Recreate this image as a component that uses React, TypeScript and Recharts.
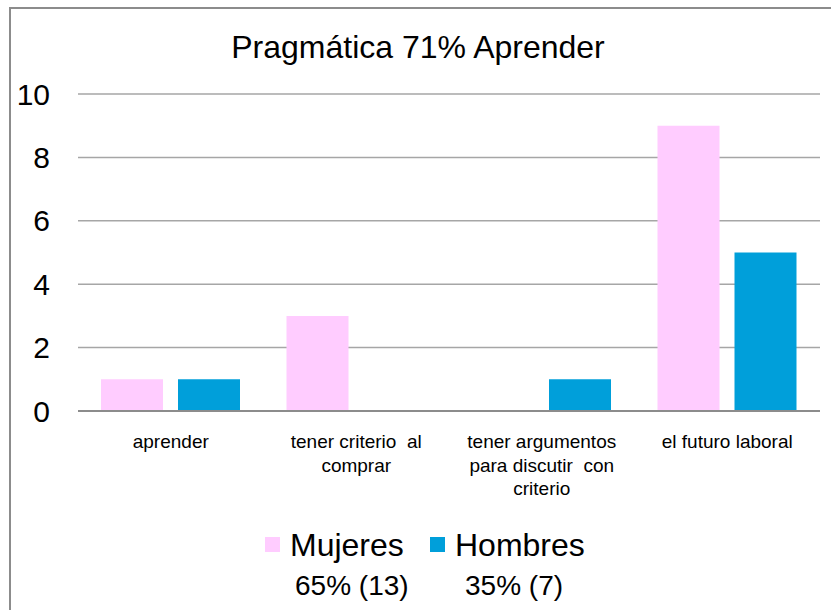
import React from "react";
import { BarChart, Bar, XAxis, YAxis, CartesianGrid } from "recharts";

const categories = ["aprender", "tener criterio  al comprar", "tener argumentos para discutir  con criterio", "el futuro laboral"];
const tickLines = [["aprender"], ["tener criterio  al", "comprar"], ["tener argumentos", "para discutir  con", "criterio"], ["el futuro laboral"]];
const mujeres = [1, 3, 0, 9];
const hombres = [1, 0, 1, 5];
const yTicks = [0, 2, 4, 6, 8, 10];

const seriesNames = ["Mujeres", "Hombres"];
const seriesShares = ["65% (13)", "35% (7)"];
const COLORS = ["#FFCCFF", "#009FDA"];

const FONT = '"Liberation Sans", Arial, sans-serif';

const data = categories.map((c, i) => ({ name: c, Mujeres: mujeres[i], Hombres: hombres[i] }));

function CategoryTick(props: any) {
  const { x, y, index } = props;
  const lines = tickLines[index] || [];
  return (
    <text x={x} y={y} textAnchor="middle" fontSize={19} fontFamily={FONT} fill="#000">
      {lines.map((l, i) => (
        <tspan key={i} x={x} y={y + 37 + i * 23.5} style={{ whiteSpace: "pre" }}>
          {l}
        </tspan>
      ))}
    </text>
  );
}

export default function App() {
  return (
    <div style={{ position: "absolute", left: 0, top: 0, width: 831, height: 610, overflow: "hidden", background: "#fff" }}>
      <div style={{ position: "absolute", left: 9, top: 7, width: 900, height: 700, border: "2px solid #8c8c8c" }} />
      <div style={{ position: "absolute", left: 0, top: 0 }}>
        <BarChart
          width={831}
          height={610}
          data={data}
          margin={{ top: 94, right: 11, left: 0, bottom: 99 }}
          barCategoryGap={23}
          barGap={15}
        >
          <CartesianGrid vertical={false} stroke="#a6a6a6" strokeWidth={1.5} />
          <XAxis
            dataKey="name"
            height={100}
            tickLine={false}
            tickSize={0}
            tickMargin={0}
            axisLine={{ stroke: "#8c8c8c", strokeWidth: 2 }}
            tick={<CategoryTick />}
            interval={0}
          />
          <YAxis
            width={78}
            domain={[0, 10]}
            ticks={yTicks}
            axisLine={false}
            tickLine={false}
            tickSize={0}
            tickMargin={28}
            tick={{ fontSize: 30, fontFamily: FONT, fill: "#000" }}
          />
          <Bar dataKey="Mujeres" fill={COLORS[0]} isAnimationActive={false} />
          <Bar dataKey="Hombres" fill={COLORS[1]} isAnimationActive={false} />
        </BarChart>
      </div>
      <svg width={831} height={610} style={{ position: "absolute", left: 0, top: 0, pointerEvents: "none" }}>
        <text x={418} y={58} textAnchor="middle" fontSize={32} fontFamily={FONT} fill="#000">
          Pragmática 71% Aprender
        </text>
        {seriesNames.map((n, i) => (
          <g key={n}>
            <rect x={265 + i * 165} y={537} width={15} height={15} fill={COLORS[i]} />
            <text x={290 + i * 165} y={556} fontSize={32} fontFamily={FONT} fill="#000">
              {n}
            </text>
            <text x={295 + i * 170} y={595} fontSize={28} fontFamily={FONT} fill="#000">
              {seriesShares[i]}
            </text>
          </g>
        ))}
      </svg>
    </div>
  );
}
